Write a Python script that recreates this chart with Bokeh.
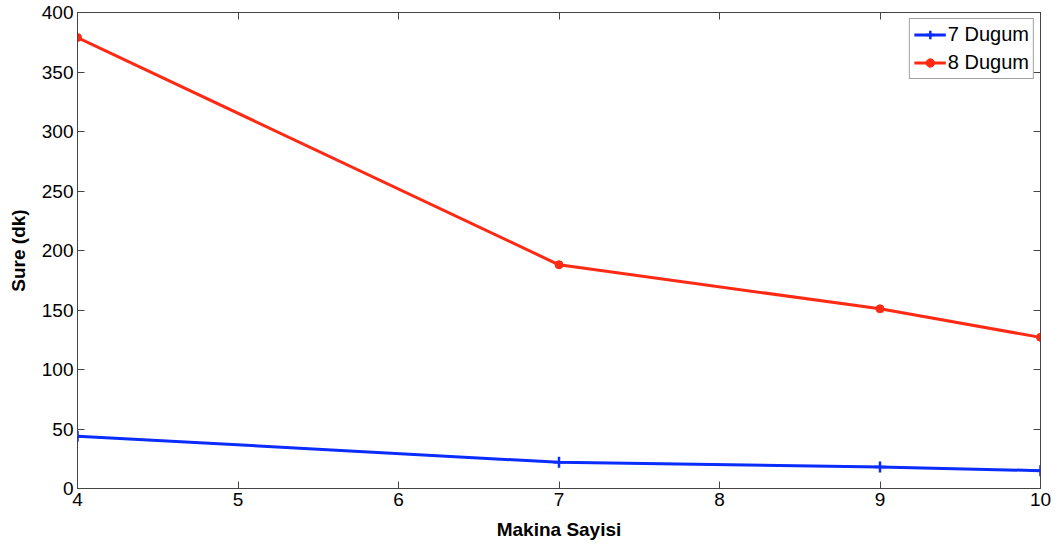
from bokeh.plotting import figure
from bokeh.models import Range1d, LinearAxis, FixedTicker, CustomJSTickFormatter
from bokeh.embed import file_html
from bokeh.resources import INLINE

machines = [4, 7, 9, 10]
dugum7 = [44, 22, 18, 15]
dugum8 = [379, 188, 151, 127]
x_ticks = [4, 5, 6, 7, 8, 9, 10]
y_ticks = [0, 50, 100, 150, 200, 250, 300, 350, 400]

BLUE = "#0a2cff"
RED = "#ff2a14"
FONT = "Liberation Sans"

p = figure(width=1061, height=550, output_backend="svg", toolbar_location=None,
           x_range=Range1d(4, 10), y_range=Range1d(0, 400),
           min_border_left=77, min_border_right=21, min_border_top=12, min_border_bottom=62)
p.background_fill_color = "white"
p.border_fill_color = "white"
p.outline_line_color = "#444444"
p.outline_line_width = 1
p.xgrid.visible = False
p.ygrid.visible = False

p.line(machines, dugum7, line_color=BLUE, line_width=3, legend_label="7 Dugum")
p.scatter(machines, dugum7, marker="cross", size=11, line_color=BLUE, line_width=2.5, legend_label="7 Dugum")
p.line(machines, dugum8, line_color=RED, line_width=3, legend_label="8 Dugum")
p.scatter(machines, dugum8, marker="circle", size=8, fill_color=RED, line_color=RED, legend_label="8 Dugum")

for ax in (p.xaxis[0], p.yaxis[0]):
    ax.major_tick_in = 7
    ax.major_tick_out = 0
    ax.minor_tick_line_color = None
    ax.axis_line_color = "#444444"
    ax.major_tick_line_color = "#444444"
    ax.major_label_text_font = FONT
    ax.major_label_text_font_size = "19px"
    ax.major_label_text_color = "black"
    ax.axis_label_text_font = FONT
    ax.axis_label_text_font_size = "19px"
    ax.axis_label_text_font_style = "bold"
    ax.axis_label_text_color = "black"

p.xaxis[0].ticker = FixedTicker(ticks=x_ticks)
p.yaxis[0].ticker = FixedTicker(ticks=y_ticks)
p.xaxis[0].axis_label = "Makina Sayisi"
p.yaxis[0].axis_label = "Sure (dk)"
p.xaxis[0].major_label_standoff = 4
p.yaxis[0].major_label_standoff = 4
p.xaxis[0].axis_label_standoff = 10
p.yaxis[0].axis_label_standoff = 10

blank = CustomJSTickFormatter(code="return '';")
ra = LinearAxis(ticker=FixedTicker(ticks=y_ticks), major_tick_in=7, major_tick_out=0,
                minor_tick_line_color=None, formatter=blank, major_label_standoff=0,
                axis_line_color="#444444", major_tick_line_color="#444444")
ta = LinearAxis(ticker=FixedTicker(ticks=x_ticks), major_tick_in=7, major_tick_out=0,
                minor_tick_line_color=None, formatter=CustomJSTickFormatter(code="return '';"),
                major_label_standoff=0,
                axis_line_color="#444444", major_tick_line_color="#444444")
p.add_layout(ra, "right")
p.add_layout(ta, "above")

lg = p.legend[0]
lg.location = "top_right"
lg.margin = 6
lg.border_line_color = "#444444"
lg.border_line_width = 1
lg.background_fill_color = "white"
lg.background_fill_alpha = 1
lg.label_text_font = FONT
lg.label_text_font_size = "20px"
lg.label_text_color = "black"
lg.glyph_width = 32
lg.glyph_height = 21
lg.padding = 4
lg.spacing = 5
lg.label_standoff = 2

open("out.html", "w").write(file_html(p, INLINE))
